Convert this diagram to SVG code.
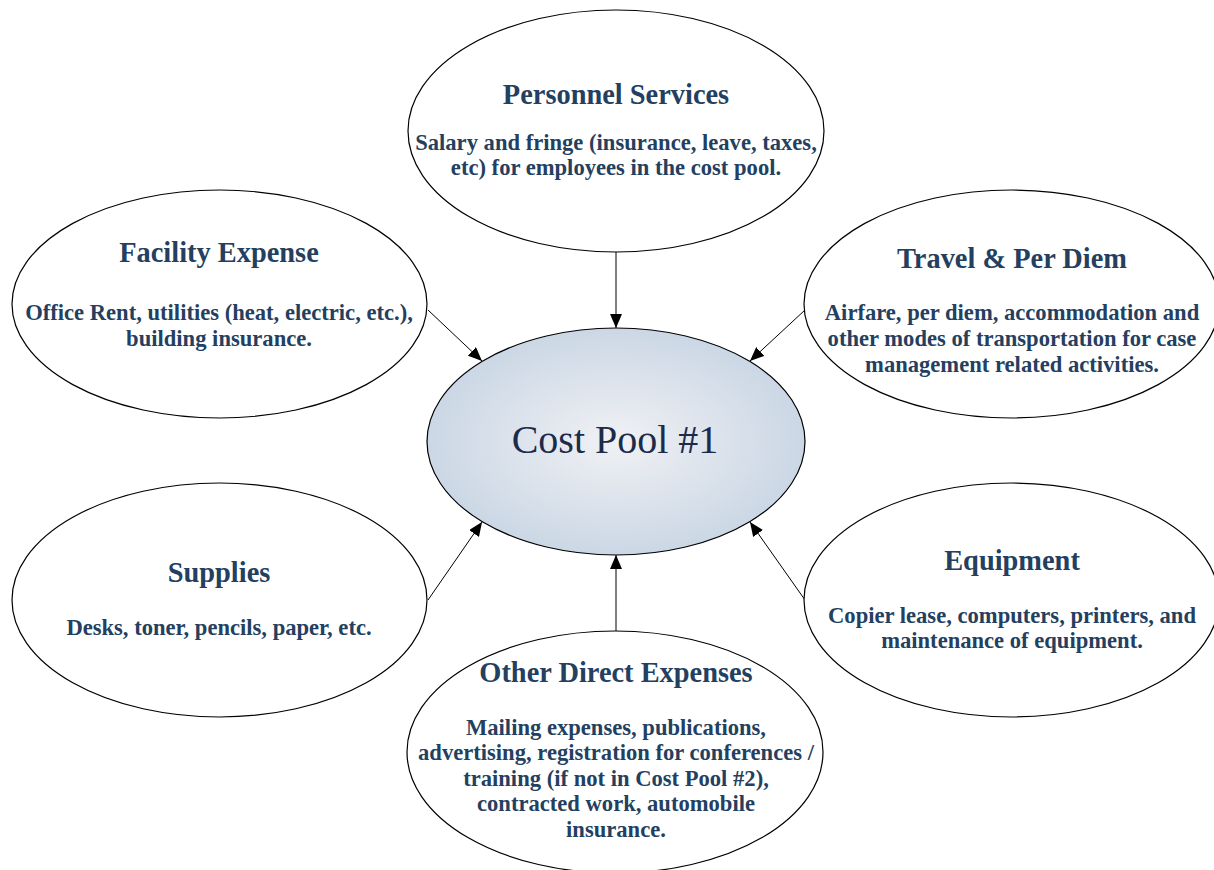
<svg xmlns="http://www.w3.org/2000/svg" width="1214" height="870" viewBox="0 0 1214 870">
<defs>
<radialGradient id="cg" cx="50%" cy="50%" r="50%">
<stop offset="0" stop-color="#f0f1f4"/>
<stop offset="1" stop-color="#cbd7e5"/>
</radialGradient>
<marker id="ah" markerWidth="14" markerHeight="12" refX="14" refY="6" orient="auto" markerUnits="userSpaceOnUse">
<path d="M0,0 L14,6 L0,12 Z" fill="#000"/>
</marker>
<style>
.node{fill:#fff;stroke:#000;stroke-width:1.2}
.t{font-family:"Liberation Serif","Times New Roman",serif;font-weight:bold;font-size:28.4px;fill:#243f60;text-anchor:middle}
.b{font-family:"Liberation Serif","Times New Roman",serif;font-weight:bold;font-size:22.6px;fill:#243f60;text-anchor:middle}
.c{font-family:"Liberation Serif","Times New Roman",serif;font-size:40px;fill:#1c2b4a;text-anchor:middle}
.conn{stroke:#000;stroke-width:1;fill:none;marker-end:url(#ah)}
</style>
</defs>
<rect width="1214" height="870" fill="#fff"/>
<g id="connectors">
<line class="conn" x1="616" y1="252" x2="616" y2="328"/>
<line class="conn" x1="428" y1="310" x2="482" y2="361"/>
<line class="conn" x1="805" y1="310" x2="750" y2="361"/>
<line class="conn" x1="428" y1="600" x2="482" y2="522"/>
<line class="conn" x1="805" y1="600" x2="750" y2="522"/>
<line class="conn" x1="616" y1="631" x2="616" y2="555"/>
</g>
<g id="personnel">
<ellipse class="node" cx="616" cy="131" rx="208" ry="121"/>
<text class="t" x="616" y="104">Personnel Services</text>
<text class="b" x="616" y="150">Salary and fringe (insurance, leave, taxes,</text>
<text class="b" x="616" y="175">etc) for employees in the cost pool.</text>
</g>
<g id="facility">
<ellipse class="node" cx="219.5" cy="304" rx="207.5" ry="114"/>
<text class="t" x="219" y="262">Facility Expense</text>
<text class="b" x="219" y="320">Office Rent, utilities (heat, electric, etc.),</text>
<text class="b" x="219" y="346">building insurance.</text>
</g>
<g id="travel">
<ellipse class="node" cx="1011.5" cy="304" rx="207.5" ry="114"/>
<text class="t" x="1012" y="268">Travel &amp; Per Diem</text>
<text class="b" x="1012" y="320">Airfare, per diem, accommodation and</text>
<text class="b" x="1012" y="346">other modes of transportation for case</text>
<text class="b" x="1012" y="372">management related activities.</text>
</g>
<g id="costpool">
<ellipse cx="616" cy="441.5" rx="189" ry="113.5" fill="url(#cg)" stroke="#000" stroke-width="1.2"/>
<text class="c" x="615" y="453">Cost Pool #1</text>
</g>
<g id="supplies">
<ellipse class="node" cx="219.5" cy="600" rx="207.5" ry="117"/>
<text class="t" x="219" y="582">Supplies</text>
<text class="b" x="219" y="635">Desks, toner, pencils, paper, etc.</text>
</g>
<g id="equipment">
<ellipse class="node" cx="1011.5" cy="600" rx="207.5" ry="117"/>
<text class="t" x="1012" y="570">Equipment</text>
<text class="b" x="1012" y="623">Copier lease, computers, printers, and</text>
<text class="b" x="1012" y="648">maintenance of equipment.</text>
</g>
<g id="other">
<ellipse class="node" cx="615" cy="752" rx="208" ry="121"/>
<text class="t" x="616" y="682">Other Direct Expenses</text>
<text class="b" x="616" y="735">Mailing expenses, publications,</text>
<text class="b" x="616" y="760">advertising, registration for conferences /</text>
<text class="b" x="616" y="786">training (if not in Cost Pool #2),</text>
<text class="b" x="616" y="811">contracted work, automobile</text>
<text class="b" x="616" y="837">insurance.</text>
</g>
</svg>
